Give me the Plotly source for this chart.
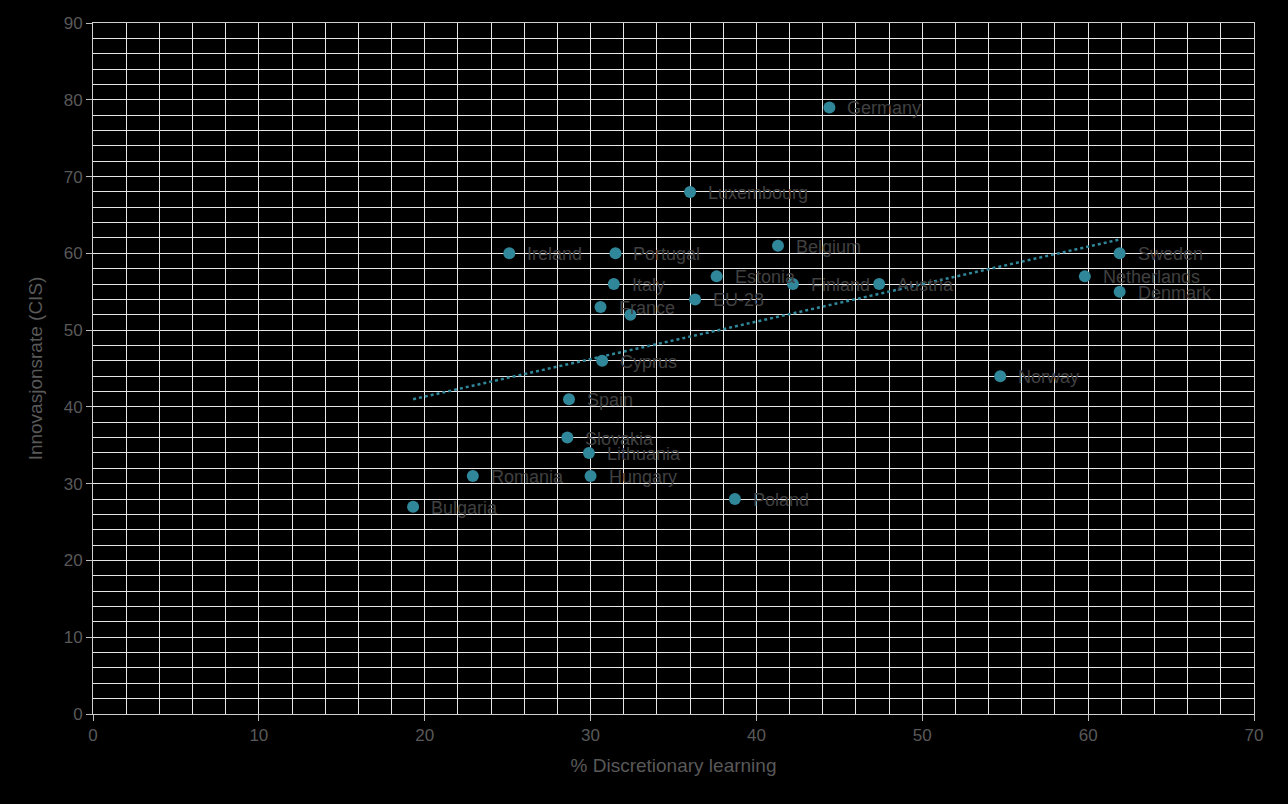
import plotly.graph_objects as go

countries = ["Germany", "Luxembourg", "Ireland", "Portugal", "Belgium", "Estonia", "Italy",
             "Finland", "Austria", "EU-28", "France", "", "Sweden", "Netherlands", "Denmark",
             "Norway", "Cyprus", "Spain", "Slovakia", "Lithuania", "Hungary", "Romania",
             "Bulgaria", "Poland"]
discretionary = [44.4, 36.0, 25.1, 31.5, 41.3, 37.6, 31.4,
                 42.2, 47.4, 36.3, 30.6, 32.4, 61.9, 59.8, 61.9,
                 54.7, 30.7, 28.7, 28.6, 29.9, 30.0, 22.9,
                 19.3, 38.7]
innovation = [79, 68, 60, 60, 61, 57, 56,
              56, 56, 54, 53, 52, 60, 57, 55,
              44, 46, 41, 36, 34, 31, 31,
              27, 28]

trend_x = [19.3, 61.9]
trend_y = [41.0, 61.8]

teal = "#31879a"
grid = "#e6e6e6"
tick_col = "#595959"
label_col = "#404040"

fig = go.Figure()
fig.add_trace(go.Scatter(x=trend_x, y=trend_y, mode="lines",
                         line=dict(color=teal, width=2.5, dash="dot"),
                         hoverinfo="skip", showlegend=False))
fig.add_trace(go.Scatter(x=discretionary, y=innovation, mode="markers",
                         marker=dict(color=teal, size=12),
                         showlegend=False))

for c, xv, yv in zip(countries, discretionary, innovation):
    if c:
        fig.add_annotation(x=xv, y=yv, text=c, showarrow=False, xanchor="left",
                           yanchor="middle", xshift=16, yshift=-1,
                           font=dict(family="Liberation Sans, Arial", size=18, color=label_col))

fig.update_layout(
    width=1288, height=804,
    paper_bgcolor="black", plot_bgcolor="black",
    margin=dict(l=93, r=34, t=23, b=90),
    font=dict(family="Liberation Sans, Arial", color=tick_col),
)
fig.update_xaxes(range=[0, 70], dtick=10, tick0=0, showgrid=True, gridcolor=grid, gridwidth=1,
                 minor=dict(dtick=2, showgrid=True, gridcolor=grid, gridwidth=1),
                 showline=True, mirror=True, linecolor="#cfcfcf", linewidth=1, zeroline=False,
                 ticks="outside", ticklen=6, tickcolor="#bfbfbf",
                 tickfont=dict(size=17, color=tick_col),
                 title=dict(text="% Discretionary learning", font=dict(size=19, color=tick_col), standoff=14))
fig.update_yaxes(range=[0, 90], dtick=10, tick0=0, showgrid=True, gridcolor=grid, gridwidth=1,
                 minor=dict(dtick=2, showgrid=True, gridcolor=grid, gridwidth=1),
                 showline=True, mirror=True, linecolor="#cfcfcf", linewidth=1, zeroline=False,
                 ticks="outside", ticklen=6, tickcolor="#bfbfbf",
                 tickfont=dict(size=17, color=tick_col),
                 title=dict(text="Innovasjonsrate (CIS)", font=dict(size=19, color=tick_col), standoff=16))

fig.write_html("out.html", config={"displayModeBar": False},
               post_script="document.body.style.margin='0';document.body.style.background='black';")
